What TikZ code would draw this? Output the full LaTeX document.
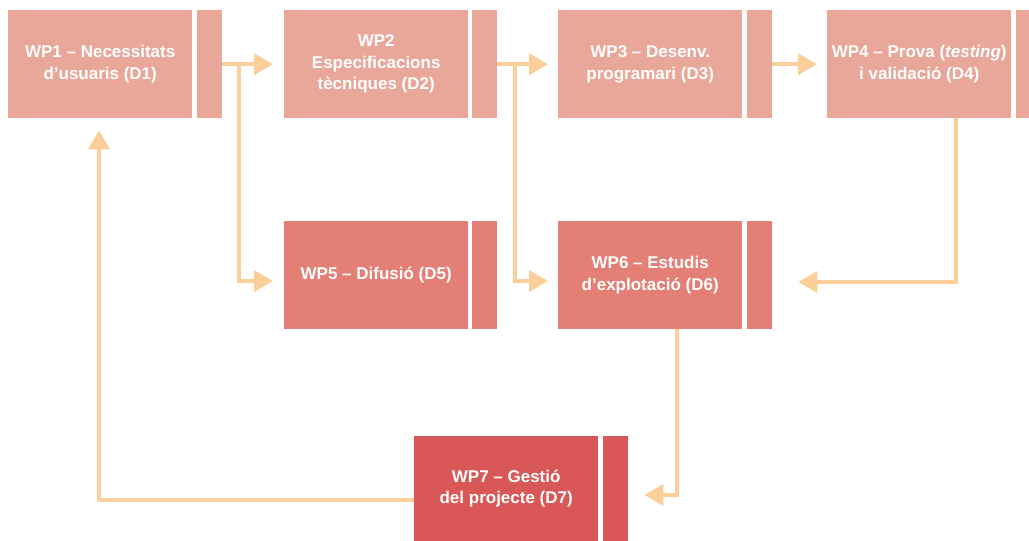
\documentclass[tikz,border=0pt]{standalone}
\usepackage{fontspec}
\setmainfont{Liberation Sans}
\usetikzlibrary{arrows.meta,calc}
\definecolor{rowA}{HTML}{E9A79A}
\definecolor{rowB}{HTML}{E47F76}
\definecolor{rowC}{HTML}{D95757}
\definecolor{flow}{HTML}{FBCE9A}
\begin{document}
\begin{tikzpicture}[x=1pt,y=-1pt,
  wp/.style={fill=#1,draw=none,minimum width=184pt,minimum height=108pt,inner sep=0pt,
    text=white,font=\fontsize{17}{21.5}\selectfont\bfseries,align=center},
  tab/.style={fill=#1,draw=none,minimum width=25pt,minimum height=108pt,inner sep=0pt},
  conn/.style={draw=flow,line width=4pt,-{Triangle[length=19pt,width=21pt]}},
  link/.style={draw=flow,line width=4pt}]
\useasboundingbox (0,0) rectangle (1029,541);
% first row
\node[wp=rowA,anchor=north west] (wp1) at (8,10) {WP1 – Necessitats\\ d’usuaris (D1)};
\node[tab=rowA,anchor=north west] (wp1t) at (197,10) {};
\node[wp=rowA,anchor=north west] (wp2) at (284,10) {WP2\\Especificacions\\tècniques (D2)};
\node[tab=rowA,anchor=north west] (wp2t) at (472,10) {};
\node[wp=rowA,anchor=north west] (wp3) at (558,10) {WP3 – Desenv.\\programari (D3)};
\node[tab=rowA,anchor=north west] (wp3t) at (747,10) {};
\node[wp=rowA,anchor=north west] (wp4) at (827,10) {WP4 – Prova (\textit{testing})\\i validació (D4)};
\node[tab=rowA,anchor=north west] (wp4t) at (1016,10) {};
% second row
\node[wp=rowB,anchor=north west] (wp5) at (284,221) {WP5 – Difusió (D5)};
\node[tab=rowB,anchor=north west] (wp5t) at (472,221) {};
\node[wp=rowB,anchor=north west] (wp6) at (558,221) {WP6 – Estudis\\d’explotació (D6)};
\node[tab=rowB,anchor=north west] (wp6t) at (747,221) {};
% third row
\node[wp=rowC,anchor=north west,minimum height=105pt] (wp7) at (414,436) {WP7 – Gestió\\del projecte (D7)};
\node[tab=rowC,anchor=north west,minimum height=105pt] (wp7t) at (603,436) {};
% branch points and turning points
\coordinate (b1) at (239,64);
\coordinate (b2) at (514.5,64);
\coordinate (d5) at (0,281);
\coordinate (d4) at (956,282);
\coordinate (d6) at (677,495);
\coordinate (c7) at (99,500);
% main flow
\draw[conn,shorten >=11pt] (wp1t.east) -- (wp2.west);
\draw[conn,shorten >=10pt] (wp2t.east) -- (wp3.west);
\draw[conn,shorten >=10pt] (wp3t.east) -- (wp4.west);
\draw[conn,shorten >=11pt] (b1) |- (wp5.west |- d5);
\draw[conn,shorten >=10pt] (b2) |- (wp6.west |- d5);
\draw[link] (wp4.south -| d4) -- ([yshift=2pt]d4);
\draw[conn,shorten >=26pt] ([xshift=2pt]d4) -- (wp6t.east |- d4);
\draw[link] (wp6.south -| d6) -- ([yshift=2pt]d6);
\draw[conn,shorten >=16pt] ([xshift=2pt]d6) -- (wp7t.east |- d6);
\draw[conn,shorten >=12pt] (wp7.west |- c7) -| (wp1.south -| c7);
\end{tikzpicture}
\end{document}
